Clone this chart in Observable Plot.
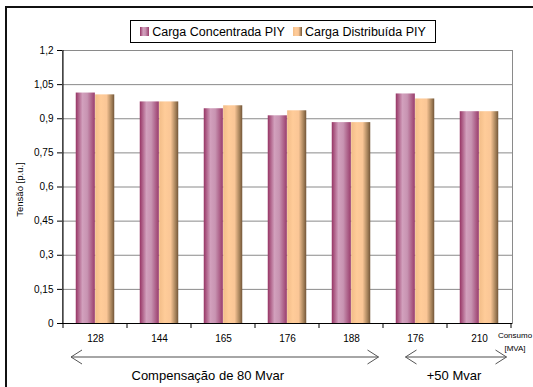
<!DOCTYPE html>
<html>
<head>
<meta charset="utf-8">
<script src="https://cdn.jsdelivr.net/npm/d3@7"></script>
<script src="https://cdn.jsdelivr.net/npm/@observablehq/plot@0.6"></script>
<style>
  html, body { margin: 0; padding: 0; background: #fff; overflow: hidden; }
  #wrap { position: relative; width: 533px; height: 387px; overflow: hidden; font-family: "Liberation Sans", Arial, sans-serif; }
  #frame { position: absolute; left: 5px; top: 6px; width: 700px; height: 600px; border-left: 2px solid #111; border-top: 2px solid #111; box-sizing: border-box; pointer-events: none; }
  #legend { position: absolute; left: 130px; top: 20px; width: 306px; height: 23px; box-sizing: border-box; border: 1px solid #000; background: #fff; display: flex; align-items: center; justify-content: center; gap: 0; font-size: 12.5px; color: #000; white-space: nowrap; }
  .sw { display: inline-block; width: 9px; height: 9px; margin-right: 3px; }
  .item { display: inline-flex; align-items: center; margin: 0 4px; }
  #plot { position: absolute; left: 0; top: 0; }
</style>
</head>
<body>
<div id="wrap">
  <div id="plot"></div>
  <div id="frame"></div>
  <div id="legend"></div>
</div>
<script>
// ---- data ----
const categories = ["128", "144", "165", "176", "188", "176", "210"];
const seriesNames = ["Carga Concentrada PIY", "Carga Distribuída PIY"];
const concentrada = [1.013, 0.974, 0.944, 0.913, 0.883, 1.009, 0.931];
const distribuida = [1.005, 0.974, 0.957, 0.935, 0.883, 0.987, 0.931];
const yTicks = [0, 0.15, 0.3, 0.45, 0.6, 0.75, 0.9, 1.05, 1.2];
const yLabel = "Tensão [p.u.]";
const xUnitLines = ["Consumo", "[MVA]"];
const groups = [
  {label: "Compensação de 80 Mvar", from: 0, to: 4},
  {label: "+50 Mvar", from: 5, to: 6}
];

const rows = categories.map((c, i) => ({i, c, conc: concentrada[i], dist: distribuida[i]}));

const pinkStops = [[0, "#963464"], [0.35, "#d2a0bd"], [0.6, "#c894b2"], [1, "#9a3d6c"]];
const orangeStops = [[0, "#f2bd88"], [0.3, "#ffcc99"], [0.6, "#fac696"], [0.85, "#a8845c"], [1, "#735638"]];

const fmt = d => String(+d.toFixed(2)).replace(".", ",");

const chart = Plot.plot({
  width: 533,
  height: 387,
  marginLeft: 62,
  marginRight: 21,
  marginTop: 50,
  marginBottom: 64,
  style: {fontFamily: "'Liberation Sans', Arial, sans-serif", fontSize: "10px", color: "#000", background: "transparent"},
  x: {domain: d3.range(categories.length), padding: 0},
  y: {domain: [0, 1.2]},
  marks: [
    Plot.gridY(yTicks, {stroke: "#8a8a8a", strokeOpacity: 1}),
    Plot.barY(rows, {x: "i", y: "conc", fill: "url(#gPink)", insetLeft: 12.75, insetRight: 32.15}),
    Plot.barY(rows, {x: "i", y: "dist", fill: "url(#gOrange)", insetLeft: 32.15, insetRight: 12.75}),
    Plot.frame({stroke: "#8a8a8a"}),
    Plot.ruleY([0], {stroke: "#000"}),
    Plot.axisY({ticks: yTicks, tickFormat: fmt, tickSize: 5, tickPadding: 4, label: null, fontSize: 10}),
    Plot.axisX({tickSize: 0, tickPadding: 11, tickFormat: i => categories[i], label: null, fontSize: 10})
  ]
});
document.getElementById("plot").appendChild(chart);

const svg = d3.select(chart);
const defs = svg.insert("defs", ":first-child");
function grad(id, stops) {
  const g = defs.append("linearGradient").attr("id", id).attr("x1", "0").attr("x2", "1").attr("y1", "0").attr("y2", "0");
  stops.forEach(([o, c]) => g.append("stop").attr("offset", o).attr("stop-color", c));
}
grad("gPink", pinkStops);
grad("gOrange", orangeStops);

const xs = chart.scale("x");
const ys = chart.scale("y");
const bw = xs.bandwidth;
const left = xs.apply(0);
const right = xs.apply(categories.length - 1) + bw;
const y0 = ys.apply(0);
const yTop = ys.apply(1.2);

const ann = svg.append("g").attr("font-family", "'Liberation Sans', Arial, sans-serif");
// left axis line
ann.append("line").attr("x1", left).attr("x2", left).attr("y1", yTop).attr("y2", y0).attr("stroke", "#000");
// category boundary ticks
for (let k = 0; k <= categories.length; k++) {
  const x = k < categories.length ? xs.apply(k) : right;
  ann.append("line").attr("x1", x).attr("x2", x).attr("y1", y0).attr("y2", y0 + 5).attr("stroke", "#000");
}
// y label
ann.append("text").attr("transform", `translate(20,${(yTop + y0) / 2 + 3}) rotate(-90)`)
  .attr("text-anchor", "middle").attr("dominant-baseline", "middle").attr("font-size", 9.5).attr("fill", "#000").text(yLabel);
// x unit label
ann.append("text").attr("x", right + 4).attr("y", y0 + 15).attr("text-anchor", "middle").attr("font-size", 8).attr("fill", "#000").text(xUnitLines[0]);
ann.append("text").attr("x", right + 4).attr("y", y0 + 28).attr("text-anchor", "middle").attr("font-size", 8).attr("fill", "#000").text(xUnitLines[1]);
// group arrows
const ay = y0 + 34;
groups.forEach((g, gi) => {
  const xa = xs.apply(g.from) + (gi === 0 ? 8 : 22.5);
  const xb = xs.apply(g.to) + bw - 4.5;
  ann.append("line").attr("x1", xa).attr("x2", xb).attr("y1", ay).attr("y2", ay).attr("stroke", "#a6a6a6").attr("stroke-width", 2);
  ann.append("path").attr("d", `M${xa + 11},${ay - 7} L${xa},${ay} L${xa + 11},${ay + 7}`).attr("fill", "none").attr("stroke", "#555").attr("stroke-width", 1);
  ann.append("path").attr("d", `M${xb - 11},${ay - 7} L${xb},${ay} L${xb - 11},${ay + 7}`).attr("fill", "none").attr("stroke", "#555").attr("stroke-width", 1);
  const cx = gi === 0 ? (xa + xb) / 2 - 17 : (xa + xb) / 2 - 2;
  ann.append("text").attr("x", cx).attr("y", ay + 23).attr("text-anchor", "middle").attr("font-size", 13).attr("fill", "#000").text(g.label);
});

// legend (HTML)
const legend = document.getElementById("legend");
const cssGrad = stops => `linear-gradient(to right, ${stops.map(([o, c]) => `${c} ${o * 100}%`).join(", ")})`;
[[seriesNames[0], pinkStops], [seriesNames[1], orangeStops]].forEach(([name, stops]) => {
  const item = document.createElement("span");
  item.className = "item";
  const sw = document.createElement("span");
  sw.className = "sw";
  sw.style.background = cssGrad(stops);
  item.appendChild(sw);
  item.appendChild(document.createTextNode(name));
  legend.appendChild(item);
});
</script>
</body>
</html>
